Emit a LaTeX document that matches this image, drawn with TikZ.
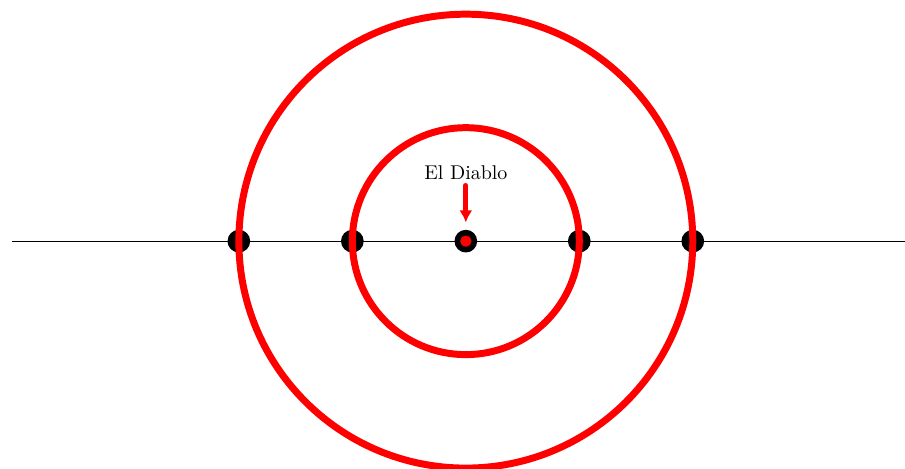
\documentclass[tikz,border=0pt]{standalone}
\usepackage{amsmath}
\usepackage{tikz}
\usetikzlibrary{arrows.meta}

\tikzset{
  ring/.style={draw=red, line width=3.5pt},
  hit/.style={circle, fill=black, inner sep=0pt, minimum size=0.4cm},
  axis/.style={draw=black, line width=0.5pt},
}

\begin{document}
\begin{tikzpicture}
\useasboundingbox (-8.21,-4) rectangle (7.74,4.25);

%Straight Lines
\coordinate (west) at (-8,0);
\coordinate (east) at (7.74,0);
\draw[axis] (west) -- (east);

%Dots on the line
\foreach \x/\name in {-4/a,-2/b,2/c,4/d}
  \node[hit] (\name) at (\x,0) {};
\node[hit] (o) at (0,0) {};
\fill[red] (o) circle (0.1);

%Circles
\draw[ring] (o) circle (2);
\draw[ring] (o) circle (4);

% Text Node
\node[inner sep=2.5pt] (diablo) at (0,1.2) {El Diablo};
\coordinate (tip) at (0,0.33);
\draw[red, line width=2.5pt, line cap=round, -{Latex[length=6pt,width=6.5pt]}] (diablo) -- (tip);

\end{tikzpicture}
\end{document}
